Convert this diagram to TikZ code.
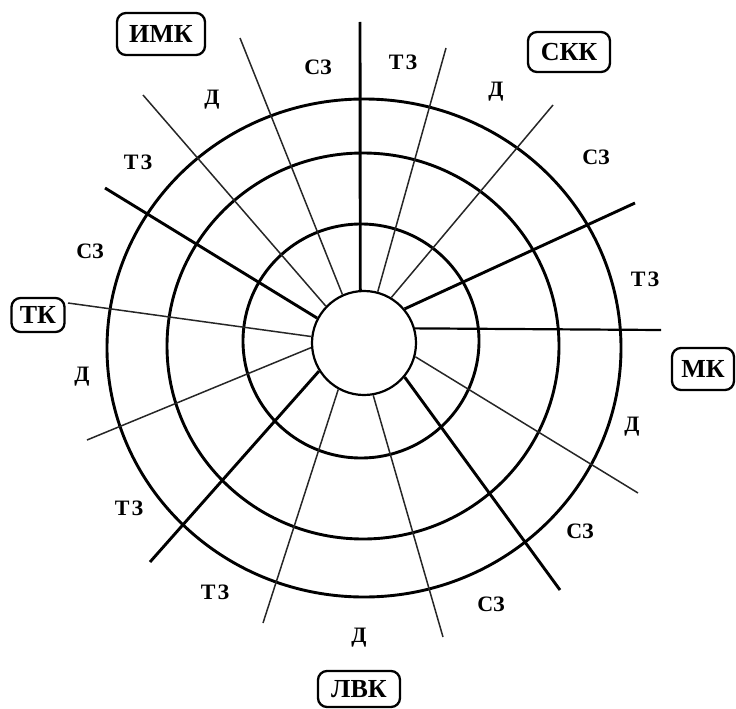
\documentclass[tikz,border=0pt]{standalone}
\usepackage{fontspec}
\setmainfont{Liberation Serif}
\begin{document}
\begin{tikzpicture}[x=1pt,y=-1pt,
  ring/.style={line width=2.9pt},
  thickray/.style={line width=2.9pt},
  midray/.style={line width=2.2pt},
  thinray/.style={line width=1.5pt, black!85},
  zone/.style={font=\bfseries\fontsize{22}{22}\selectfont, inner sep=0pt},
  keybox/.style={draw, line width=2.3pt, rounded corners=9pt, inner sep=0pt,
    font=\bfseries\fontsize{26}{26}\selectfont}
]
\useasboundingbox (0,0) rectangle (736,709);

% rings
\node[circle, draw, line width=2.2pt, minimum size=104pt, inner sep=0pt] (hub) at (364,343) {};
\draw[ring] (361,341) ellipse [x radius=118, y radius=117];
\draw[ring] (363,346) ellipse [x radius=196, y radius=193];
\draw[ring] (364,348) ellipse [x radius=257, y radius=249];

% outer ends of rays
\coordinate (e1) at (360,22);
\coordinate (e2) at (240,38);
\coordinate (e3) at (143,95);
\coordinate (e4) at (105,188);
\coordinate (e5) at (68,303);
\coordinate (e6) at (87,440);
\coordinate (e7) at (150,562);
\coordinate (e8) at (263,623);
\coordinate (e9) at (443,637);
\coordinate (e10) at (560,590);
\coordinate (e11) at (638,493);
\coordinate (e12) at (661,330);
\coordinate (e13) at (635,203);
\coordinate (e14) at (553,105);
\coordinate (e15) at (446,48);

% rays
\draw[thickray] (hub.94) -- (e1);
\draw[thinray] (hub.114) -- (e2);
\draw[thinray] (hub.136) -- (e3);
\draw[thickray] (hub.152) -- (e4);
\draw[thinray] (hub.173) -- (e5);
\draw[thinray] (hub.185.5) -- (e6);
\draw[thickray] (hub.212.5) -- (e7);
\draw[thinray] (hub.241) -- (e8);
\draw[thinray] (hub.280) -- (e9);
\draw[thickray] (hub.320) -- (e10);
\draw[thinray] (hub.345.5) -- (e11);
\draw[midray] (hub.16) -- (e12);
\draw[thickray] (hub.40.5) -- (e13);
\draw[thinray] (hub.59) -- (e14);
\draw[thinray] (hub.75.7) -- (e15);

% key boxes
\node[keybox, minimum width=88pt, minimum height=42pt] (imk) at (161,34) {ИМК};
\node[keybox, minimum width=82pt, minimum height=40pt] (skk) at (569,52) {СКК};
\node[keybox, minimum width=53pt, minimum height=34pt] (tk) at (38,315) {ТК};
\node[keybox, minimum width=62pt, minimum height=42pt] (mk) at (703,369) {МК};
\node[keybox, minimum width=82pt, minimum height=36pt] (lvk) at (359,689) {ЛВК};

% zone labels
\node[zone] (z1) at (318,67) {СЗ};
\node[zone] (z2) at (212,100) {Д};
\node[zone] (z3) at (138,162) {Т\kern2ptЗ};
\node[zone] (z4) at (90,251) {СЗ};
\node[zone] (z5) at (403,62) {Т\kern2ptЗ};
\node[zone] (z6) at (496,92) {Д};
\node[zone] (z7) at (596,157) {СЗ};
\node[zone] (z8) at (645,279) {Т\kern2ptЗ};
\node[zone] (z9) at (632,427) {Д};
\node[zone] (z10) at (580,531) {СЗ};
\node[zone] (z11) at (491,604) {СЗ};
\node[zone] (z12) at (82,377) {Д};
\node[zone] (z13) at (129,508) {Т\kern2ptЗ};
\node[zone] (z14) at (215,592) {Т\kern2ptЗ};
\node[zone] (z15) at (359,638) {Д};
\end{tikzpicture}
\end{document}
